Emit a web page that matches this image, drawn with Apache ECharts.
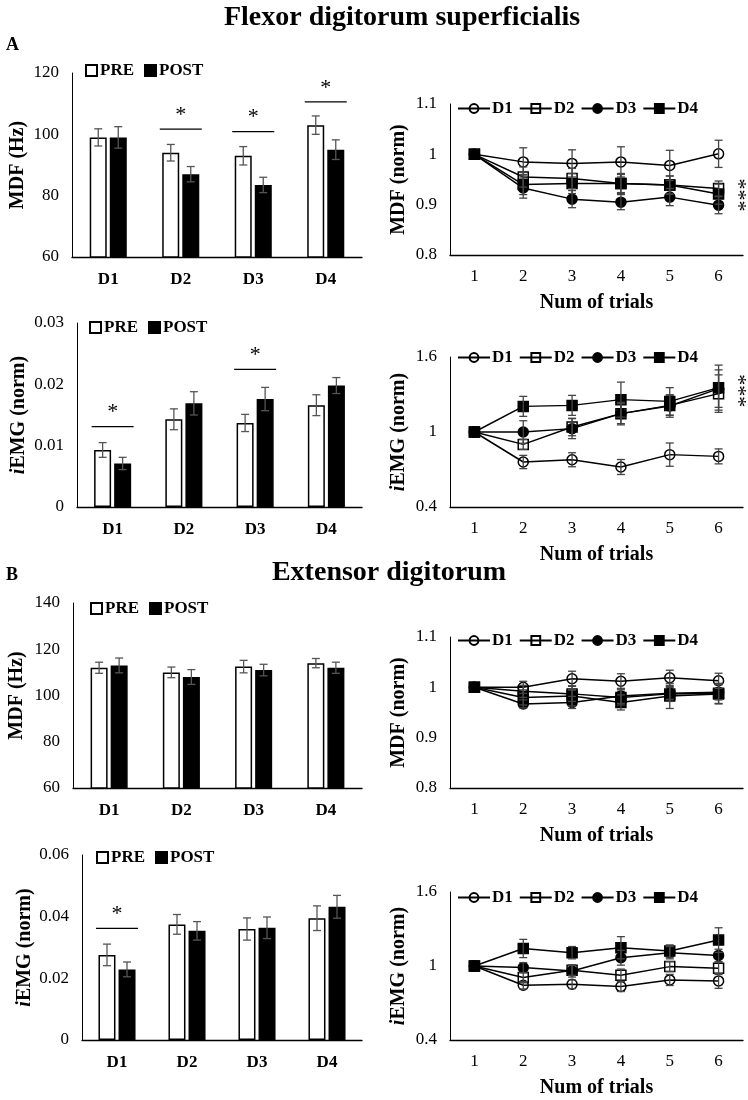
<!DOCTYPE html>
<html>
<head>
<meta charset="utf-8">
<script src="https://cdn.jsdelivr.net/npm/echarts@6/dist/echarts.min.js"></script>
<style>
html,body{margin:0;padding:0;background:#fff;}
#main{width:748px;height:1100px;}
</style>
</head>
<body>
<div id="main"></div>
<script>
var days = ['D1', 'D2', 'D3', 'D4'];
var trials = ['1', '2', '3', '4', '5', '6'];

// A - flexor digitorum superficialis, bars
var aMdfPre = [99, 94, 93, 103];
var aMdfPreErr = [2.8, 2.7, 3, 3];
var aMdfPost = [99, 87, 83.5, 95];
var aMdfPostErr = [3.5, 2.5, 2.5, 3.2];
var aMdfSig = [[1, 101.7], [2, 100.9], [3, 110.6]];

var aEmgPre = [0.0093, 0.0143, 0.0137, 0.0166];
var aEmgPreErr = [0.0012, 0.0017, 0.0014, 0.0017];
var aEmgPost = [0.0071, 0.0169, 0.0176, 0.0198];
var aEmgPostErr = [0.001, 0.0019, 0.0019, 0.0013];
var aEmgSig = [[0, 0.0131], [2, 0.02245]];

// A - normalised over trials
var aMdfD1 = [1, 0.985, 0.982, 0.985, 0.978, 1.001];
var aMdfD1Err = [0, 0.028, 0.027, 0.03, 0.03, 0.027];
var aMdfD2 = [1, 0.955, 0.952, 0.942, 0.939, 0.932];
var aMdfD2Err = [0, 0.02, 0.02, 0.018, 0.018, 0.015];
var aMdfD3 = [1, 0.933, 0.911, 0.905, 0.915, 0.899];
var aMdfD3Err = [0, 0.02, 0.017, 0.015, 0.017, 0.017];
var aMdfD4 = [1, 0.94, 0.942, 0.942, 0.939, 0.921];
var aMdfD4Err = [0, 0.02, 0.02, 0.02, 0.018, 0.02];
var aMdfStars = [[5, 0.919]];

var aEmgD1 = [1, 0.76, 0.778, 0.72, 0.819, 0.805];
var aEmgD1Err = [0, 0.053, 0.056, 0.06, 0.093, 0.06];
var aEmgD2 = [1, 0.901, 1.04, 1.147, 1.213, 1.307];
var aEmgD2Err = [0, 0.04, 0.07, 0.08, 0.08, 0.15];
var aEmgD3 = [1, 1.0, 1.027, 1.147, 1.208, 1.347];
var aEmgD3Err = [0, 0.09, 0.08, 0.09, 0.09, 0.15];
var aEmgD4 = [1, 1.205, 1.213, 1.259, 1.245, 1.355];
var aEmgD4Err = [0, 0.08, 0.08, 0.14, 0.11, 0.18];
var aEmgStars = [[5, 1.33]];

// B - extensor digitorum, bars
var bMdfPre = [112, 110, 112.5, 114];
var bMdfPreErr = [2.4, 2.3, 2.7, 2];
var bMdfPost = [113, 108, 111, 112];
var bMdfPostErr = [3.2, 3.2, 2.5, 2.4];
var bMdfSig = [];

var bEmgPre = [0.0276, 0.0375, 0.036, 0.0395];
var bEmgPreErr = [0.0035, 0.0032, 0.0036, 0.004];
var bEmgPost = [0.0229, 0.0354, 0.0364, 0.0432];
var bEmgPostErr = [0.0024, 0.003, 0.0035, 0.0037];
var bEmgSig = [[0, 0.0362]];

// B - normalised over trials
var bMdfD1 = [1, 1.0, 1.017, 1.012, 1.019, 1.013];
var bMdfD1Err = [0, 0.012, 0.015, 0.015, 0.015, 0.015];
var bMdfD2 = [1, 0.992, 0.987, 0.98, 0.987, 0.988];
var bMdfD2Err = [0, 0.012, 0.015, 0.015, 0.015, 0.02];
var bMdfD3 = [1, 0.967, 0.97, 0.983, 0.988, 0.99];
var bMdfD3Err = [0, 0.008, 0.012, 0.015, 0.012, 0.015];
var bMdfD4 = [1, 0.98, 0.983, 0.97, 0.983, 0.987];
var bMdfD4Err = [0, 0.015, 0.02, 0.015, 0.025, 0.02];

var bEmgD1 = [1, 0.844, 0.852, 0.833, 0.887, 0.879];
var bEmgD1Err = [0, 0.03, 0.035, 0.04, 0.045, 0.06];
var bEmgD2 = [1, 0.906, 0.965, 0.925, 0.995, 0.981];
var bEmgD2Err = [0, 0.04, 0.04, 0.05, 0.04, 0.05];
var bEmgD3 = [1, 0.987, 0.96, 1.067, 1.108, 1.086];
var bEmgD3Err = [0, 0.04, 0.05, 0.06, 0.05, 0.05];
var bEmgD4 = [1, 1.142, 1.108, 1.148, 1.121, 1.21];
var bEmgD4Err = [0, 0.074, 0.05, 0.09, 0.05, 0.1];

var normTicks = [0.4, 1, 1.6];

(function () {
    var font = "'Liberation Serif','Times New Roman',serif";
    var grids = [], xAxes = [], yAxes = [], series = [], legends = [];

    var emgName = '{i|i}EMG (norm)';
    function nameStyle() {
        return {
            fontFamily: font, fontWeight: 'bold', fontSize: 20, color: '#000',
            rich: { i: { fontFamily: font, fontWeight: 'bold', fontStyle: 'italic', fontSize: 20, color: '#000' } }
        };
    }
    function fmt(v) { return String(+(+v).toFixed(3)); }

    function yAxis(gi, min, max, interval, name, nameGap, custom) {
        var ax = {
            type: 'value', gridIndex: gi, min: min, max: max,
            name: name, nameLocation: 'middle', nameGap: nameGap,
            nameTextStyle: nameStyle(),
            axisLine: { show: true, lineStyle: { color: '#000', width: 1 } },
            axisTick: { show: false },
            splitLine: { show: false },
            axisLabel: { fontFamily: font, fontSize: 17, color: '#000', margin: 13, formatter: fmt }
        };
        if (custom) {
            ax.axisLabel.customValues = custom;
        } else {
            ax.interval = interval;
        }
        return ax;
    }

    function errBar(gi, vals, errs, offset, color) {
        var data = [];
        vals.forEach(function (v, i) { if (errs[i] > 0) data.push([i, v, errs[i]]); });
        return {
            type: 'custom', xAxisIndex: gi, yAxisIndex: gi, z: 5, silent: true,
            data: data, encode: { x: 0, y: 1 },
            renderItem: function (params, api) {
                var c = api.coord([api.value(0), api.value(1)]);
                var hi = api.coord([api.value(0), api.value(1) + api.value(2)]);
                var lo = api.coord([api.value(0), api.value(1) - api.value(2)]);
                var x = c[0] + offset, w = 4;
                var st = { stroke: color, lineWidth: 1.3 };
                return {
                    type: 'group', children: [
                        { type: 'line', shape: { x1: x, y1: hi[1], x2: x, y2: lo[1] }, style: st },
                        { type: 'line', shape: { x1: x - w, y1: hi[1], x2: x + w, y2: hi[1] }, style: st },
                        { type: 'line', shape: { x1: x - w, y1: lo[1], x2: x + w, y2: lo[1] }, style: st }
                    ]
                };
            }
        };
    }

    function sigMarks(gi, sig) {
        return {
            type: 'custom', xAxisIndex: gi, yAxisIndex: gi, silent: true,
            data: sig, encode: { x: 0, y: 1 },
            renderItem: function (params, api) {
                var c = api.coord([api.value(0), api.value(1)]);
                return {
                    type: 'group', children: [
                        { type: 'line', shape: { x1: c[0] - 21, y1: c[1], x2: c[0] + 21, y2: c[1] }, style: { stroke: '#000', lineWidth: 1.3 } },
                        { type: 'text', x: c[0], y: c[1] - 3, style: { text: '*', font: '22px ' + font, fill: '#000', align: 'center', verticalAlign: 'bottom' } }
                    ]
                };
            }
        };
    }

    function stars(gi, pos) {
        return {
            type: 'custom', xAxisIndex: gi, yAxisIndex: gi, silent: true,
            data: pos, encode: { x: 0, y: 1 },
            renderItem: function (params, api) {
                var c = api.coord([api.value(0), api.value(1)]);
                return {
                    type: 'text', x: c[0] + 19, y: c[1], rotation: -Math.PI / 2,
                    style: { text: '***', font: '22px ' + font, fill: '#000', align: 'center', verticalAlign: 'middle' }
                };
            }
        };
    }

    function barPanel(box, yCfg, pre, preErr, post, postErr, sig, legPos) {
        var gi = grids.length;
        grids.push({ left: box[0], top: box[1], width: box[2] - box[0], height: box[3] - box[1] });
        xAxes.push({
            type: 'category', gridIndex: gi, data: days,
            axisLine: { lineStyle: { color: '#000', width: 1.3 } },
            axisTick: { show: false },
            axisLabel: { fontFamily: font, fontWeight: 'bold', fontSize: 17, color: '#000', margin: 14 }
        });
        yAxes.push(yAxis(gi, yCfg[0], yCfg[1], yCfg[2], yCfg[3], yCfg[4]));
        series.push({
            name: 'PRE', type: 'bar', xAxisIndex: gi, yAxisIndex: gi, data: pre,
            barWidth: 17, barGap: '18%',
            itemStyle: { color: '#fff', borderColor: '#000', borderWidth: 1.5 }
        });
        series.push({
            name: 'POST', type: 'bar', xAxisIndex: gi, yAxisIndex: gi, data: post,
            barWidth: 17, barGap: '18%',
            itemStyle: { color: '#000', borderColor: '#000', borderWidth: 1.5 }
        });
        series.push(errBar(gi, pre, preErr, -10, '#555'));
        series.push(errBar(gi, post, postErr, 10, '#555'));
        if (sig.length) series.push(sigMarks(gi, sig));
        legends.push({
            data: ['PRE', 'POST'], left: legPos[0], top: legPos[1], icon: 'rect',
            itemWidth: 11, itemHeight: 11, itemGap: 10, selectedMode: false,
            textStyle: { fontFamily: font, fontWeight: 'bold', fontSize: 17, color: '#000', padding: [0, 0, 0, -2] }
        });
    }

    var lineDefs = [
        { name: 'D1', symbol: 'circle', fill: 'rgba(255,255,255,0)' },
        { name: 'D2', symbol: 'rect', fill: 'rgba(255,255,255,0)' },
        { name: 'D3', symbol: 'circle', fill: '#000' },
        { name: 'D4', symbol: 'rect', fill: '#000' }
    ];

    function linePanel(box, yCfg, vals, errs, starPos, legPos) {
        var gi = grids.length;
        grids.push({ left: box[0], top: box[1], width: box[2] - box[0], height: box[3] - box[1] });
        xAxes.push({
            type: 'category', gridIndex: gi, data: trials,
            name: 'Num of trials', nameLocation: 'middle', nameGap: 38,
            nameTextStyle: nameStyle(),
            axisLine: { lineStyle: { color: '#000', width: 1.3 } },
            axisTick: { show: false },
            axisLabel: { fontFamily: font, fontSize: 17, color: '#000', margin: 13 }
        });
        yAxes.push(yAxis(gi, yCfg[0], yCfg[1], yCfg[2], yCfg[3], yCfg[4], yCfg[5]));
        lineDefs.forEach(function (d, k) {
            series.push({
                name: d.name, type: 'line', xAxisIndex: gi, yAxisIndex: gi, data: vals[k],
                symbol: d.symbol, symbolSize: 10, showAllSymbol: true,
                lineStyle: { color: '#000', width: 1.5 },
                itemStyle: { color: d.fill, borderColor: '#000', borderWidth: 1.5 }
            });
        });
        lineDefs.forEach(function (d, k) {
            series.push(errBar(gi, vals[k], errs[k], 0, '#444'));
        });
        if (starPos) series.push(stars(gi, starPos));
        legends.push({
            data: ['D1', 'D2', 'D3', 'D4'], left: legPos[0], top: legPos[1],
            itemWidth: 32, itemHeight: 11, itemGap: 6, selectedMode: false,
            textStyle: { fontFamily: font, fontWeight: 'bold', fontSize: 17, color: '#000', padding: [0, 0, 0, -3] }
        });
    }

    // row 1
    barPanel([72, 73, 362, 257], [60, 120, 20, 'MDF (Hz)', 44],
        aMdfPre, aMdfPreErr, aMdfPost, aMdfPostErr, aMdfSig, [80, 57]);
    linePanel([450, 104, 743, 255], [0.8, 1.1, 0.1, 'MDF (norm)', 41],
        [aMdfD1, aMdfD2, aMdfD3, aMdfD4], [aMdfD1Err, aMdfD2Err, aMdfD3Err, aMdfD4Err], aMdfStars, [452, 95]);
    // row 2
    barPanel([77, 323, 362, 507], [0, 0.03, 0.01, emgName, 48],
        aEmgPre, aEmgPreErr, aEmgPost, aEmgPostErr, aEmgSig, [84, 314]);
    linePanel([450, 357, 743, 507], [0.4, 1.6, 0.6, emgName, 41, normTicks],
        [aEmgD1, aEmgD2, aEmgD3, aEmgD4], [aEmgD1Err, aEmgD2Err, aEmgD3Err, aEmgD4Err], aEmgStars, [452, 344]);
    // row 3
    barPanel([73, 603, 362, 788], [60, 140, 20, 'MDF (Hz)', 46],
        bMdfPre, bMdfPreErr, bMdfPost, bMdfPostErr, bMdfSig, [85, 595]);
    linePanel([450, 637, 743, 788], [0.8, 1.1, 0.1, 'MDF (norm)', 41],
        [bMdfD1, bMdfD2, bMdfD3, bMdfD4], [bMdfD1Err, bMdfD2Err, bMdfD3Err, bMdfD4Err], null, [452, 627]);
    // row 4
    barPanel([82, 855, 362, 1040], [0, 0.06, 0.02, emgName, 47],
        bEmgPre, bEmgPreErr, bEmgPost, bEmgPostErr, bEmgSig, [91, 844]);
    linePanel([450, 892, 743, 1040], [0.4, 1.6, 0.6, emgName, 41, normTicks],
        [bEmgD1, bEmgD2, bEmgD3, bEmgD4], [bEmgD1Err, bEmgD2Err, bEmgD3Err, bEmgD4Err], null, [452, 884]);

    var myChart = echarts.init(document.getElementById('main'));
    var option = {
        backgroundColor: '#fff',
        animation: false,
        grid: grids,
        xAxis: xAxes,
        yAxis: yAxes,
        legend: legends,
        series: series,
        graphic: [
            { type: 'text', x: 402, y: 18, style: { text: 'Flexor digitorum superficialis', font: 'bold 28px ' + font, fill: '#000', align: 'center', verticalAlign: 'middle' } },
            { type: 'text', left: 6, top: 36, style: { text: 'A', font: 'bold 18px ' + font, fill: '#000' } },
            { type: 'text', x: 389, y: 573, style: { text: 'Extensor digitorum', font: 'bold 28px ' + font, fill: '#000', align: 'center', verticalAlign: 'middle' } },
            { type: 'text', left: 6, top: 566, style: { text: 'B', font: 'bold 18px ' + font, fill: '#000' } }
        ]
    };
    myChart.setOption(option);
    window.addEventListener('resize', function () {
        myChart.resize();
    });
})();
</script>
</body>
</html>
